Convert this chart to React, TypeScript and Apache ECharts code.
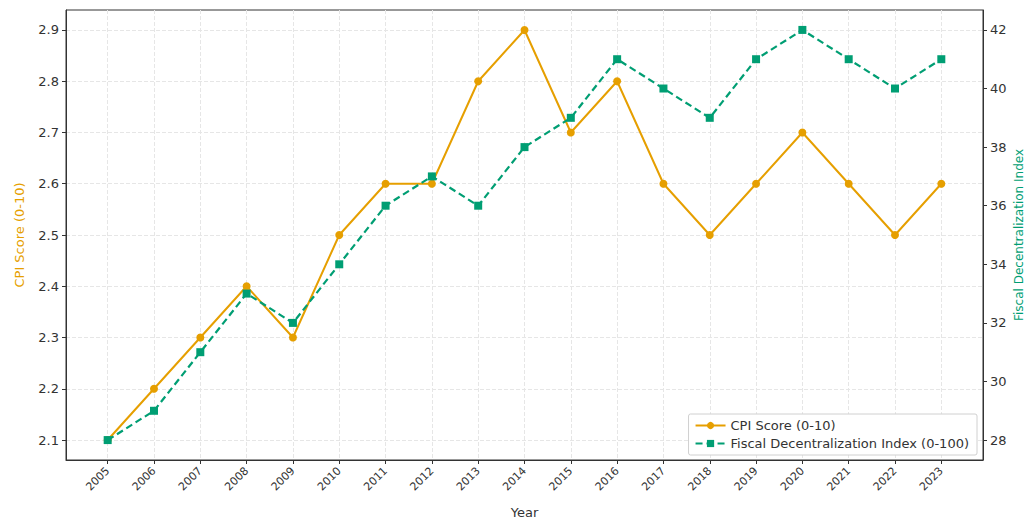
import React, { useEffect, useRef } from "react";
import * as echarts from "echarts";

const years = [2005, 2006, 2007, 2008, 2009, 2010, 2011, 2012, 2013, 2014, 2015, 2016, 2017, 2018, 2019, 2020, 2021, 2022, 2023];
const cpi = [2.1, 2.2, 2.3, 2.4, 2.3, 2.5, 2.6, 2.6, 2.8, 2.9, 2.7, 2.8, 2.6, 2.5, 2.6, 2.7, 2.6, 2.5, 2.6];
const fdi = [28, 29, 31, 33, 32, 34, 36, 37, 36, 38, 39, 41, 40, 39, 41, 42, 41, 40, 41];
const cpiTicks = [2.1, 2.2, 2.3, 2.4, 2.5, 2.6, 2.7, 2.8, 2.9];
const fdiTicks = [28, 30, 32, 34, 36, 38, 40, 42];

const ORANGE = "#E69F00";
const GREEN = "#009E73";
const FONT = "DejaVu Sans";

export default function App() {
  const ref = useRef<HTMLDivElement>(null);
  useEffect(() => {
    const chart = echarts.init(ref.current!, null, { renderer: "svg" });
    chart.setOption({
      animation: false,
      textStyle: { fontFamily: FONT },
      grid: { left: 66, right: 45, top: 10, bottom: 60, show: true, borderColor: "#333", borderWidth: 1, containLabel: false, outerBoundsMode: "none" },
      legend: {
        orient: "vertical",
        right: 51,
        bottom: 65,
        itemWidth: 30,
        itemHeight: 9,
        itemGap: 5,
        padding: [5, 8, 5, 6],
        borderColor: "#d0d0d0",
        borderWidth: 1,
        borderRadius: 2,
        backgroundColor: "#fff",
        textStyle: { fontFamily: FONT, fontSize: 13, color: "#333" },
        data: ["CPI Score (0-10)", "Fiscal Decentralization Index (0-100)"],
      },
      xAxis: {
        type: "value",
        min: 2004.1,
        max: 2023.9,
        name: "Year",
        nameLocation: "middle",
        nameGap: 46,
        nameTextStyle: { fontFamily: FONT, fontSize: 13, color: "#333" },
        axisLine: { show: true, lineStyle: { color: "#333" } },
        axisTick: { show: true, length: 4, lineStyle: { color: "#333" }, customValues: years },
        axisLabel: { customValues: years, rotate: 45, fontSize: 11, color: "#333", fontFamily: FONT, margin: 9, formatter: (v: number) => String(v) },
        splitLine: { show: true, lineStyle: { color: "#e6e6e6", type: "dashed", width: 1 } },
      },
      yAxis: [
        {
          type: "value",
          min: 2.061,
          max: 2.939,
          position: "left",
          name: "CPI Score (0-10)",
          nameLocation: "middle",
          nameGap: 40,
          nameRotate: 90,
          nameTextStyle: { fontFamily: FONT, fontSize: 13, color: ORANGE },
          axisLine: { show: true, lineStyle: { color: "#333" } },
          axisTick: { show: true, length: 4, lineStyle: { color: "#333" }, customValues: cpiTicks },
          axisLabel: { customValues: cpiTicks, fontSize: 13, color: "#333", fontFamily: FONT, margin: 7, formatter: (v: number) => v.toFixed(1) },
          splitLine: { show: true, lineStyle: { color: "#e6e6e6", type: "dashed", width: 1 } },
        },
        {
          type: "value",
          min: 27.32,
          max: 42.68,
          position: "right",
          name: "Fiscal Decentralization Index",
          nameLocation: "middle",
          nameGap: 30,
          nameMoveOverlap: false,
          nameRotate: 90,
          nameTextStyle: { fontFamily: FONT, fontSize: 12, color: GREEN },
          axisLine: { show: true, lineStyle: { color: "#333" } },
          axisTick: { show: true, length: 4, lineStyle: { color: "#333" }, customValues: fdiTicks },
          axisLabel: { customValues: fdiTicks, fontSize: 13, color: "#333", fontFamily: FONT, margin: 7, formatter: (v: number) => String(v) },
          splitLine: { show: false },
        },
      ],
      series: [
        {
          name: "CPI Score (0-10)",
          type: "line",
          yAxisIndex: 0,
          data: years.map((y, i) => [y, cpi[i]]),
          symbol: "circle",
          symbolSize: 8,
          lineStyle: { color: ORANGE, width: 2 },
          itemStyle: { color: ORANGE },
          z: 2,
        },
        {
          name: "Fiscal Decentralization Index (0-100)",
          type: "line",
          yAxisIndex: 1,
          data: years.map((y, i) => [y, fdi[i]]),
          symbol: "rect",
          symbolSize: 8,
          lineStyle: { color: GREEN, width: 2.2, type: [7, 4] },
          itemStyle: { color: GREEN },
          z: 3,
        },
      ],
    });
    return () => chart.dispose();
  }, []);
  return <div ref={ref} style={{ width: 1028, height: 520, position: "absolute", left: 0, top: 0 }} />;
}
